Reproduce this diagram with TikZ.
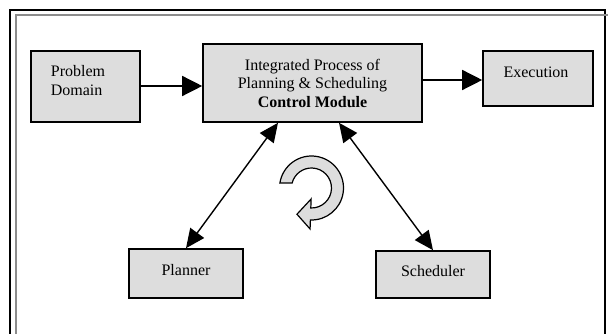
\documentclass[tikz,border=0pt]{standalone}
\usepackage{fontspec}
\setmainfont{Liberation Serif}
\usetikzlibrary{arrows.meta,calc}
\definecolor{boxgray}{RGB}{221,221,221}
\definecolor{framegray}{RGB}{140,140,140}
\tikzset{
  box/.style={draw=black, fill=boxgray, line width=1.6pt, rectangle, inner sep=0pt},
  txt/.style={font=\fontsize{16}{19}\selectfont, align=left, inner sep=0pt},
  flow/.style={line width=1.4pt, -{Triangle[length=20pt,width=20pt]}},
  dflow/.style={line width=1.4pt, {Triangle[length=19pt,width=17pt]}-{Triangle[length=19pt,width=17pt]}},
  cyc/.style={draw=black, fill=boxgray, line width=1.2pt, line join=miter}
}
\begin{document}
\begin{tikzpicture}[x=1pt,y=1pt]
\useasboundingbox (0,0) rectangle (608,334);
% frame
\draw[black, line width=1.5pt] (10,0) -- (10,324) -- (605,324) -- (605,0);
\draw[framegray, line width=1.5pt] (16,0) -- (16,319) -- (608,319);
% boxes
\node[box, minimum width=109pt, minimum height=71pt,
  label={[txt, xshift=-7.5pt, yshift=6pt]center:{Problem\\Domain}}] (pd) at (85.5,247.5) {};
\node[box, minimum width=219pt, minimum height=78pt, font=\fontsize{16}{18.5}\selectfont, align=center] (cm) at (312.5,251)
  {Integrated Process of\\Planning \& Scheduling\\\textbf{Control Module}};
\node[box, minimum width=110pt, minimum height=55pt,
  label={[txt, xshift=-2pt, yshift=6.5pt]center:{Execution}}] (ex) at (538,255.5) {};
\node[box, minimum width=114pt, minimum height=49pt,
  label={[txt, yshift=3pt]center:{Planner}}] (pl) at (186,60.5) {};
\node[box, minimum width=114pt, minimum height=47pt,
  label={[txt, yshift=3pt]center:{Scheduler}}] (sc) at (433,59.5) {};
% connectors
\draw[flow] (pd.east |- 0,248) -- (cm.west |- 0,248);
\draw[flow] (cm.east |- 0,254) -- (ex.west |- 0,254);
\draw[dflow] (pl.north) -- (cm.south -| 278,0);
\draw[dflow] (sc.north) -- (cm.south -| 339,0);
% circular arrow
\coordinate (C) at (311.5,146);
\draw[cyc] ($(C)+(171:32pt)$) arc[start angle=171, end angle=-92, radius=32pt]
  -- ($(C)+(-92:41pt)$) -- ($(C)+(-119:30pt)$) -- ($(C)+(-92:11pt)$)
  -- ($(C)+(-92:20pt)$) arc[start angle=-92, end angle=165.5, radius=20pt] -- cycle;
\end{tikzpicture}
\end{document}
